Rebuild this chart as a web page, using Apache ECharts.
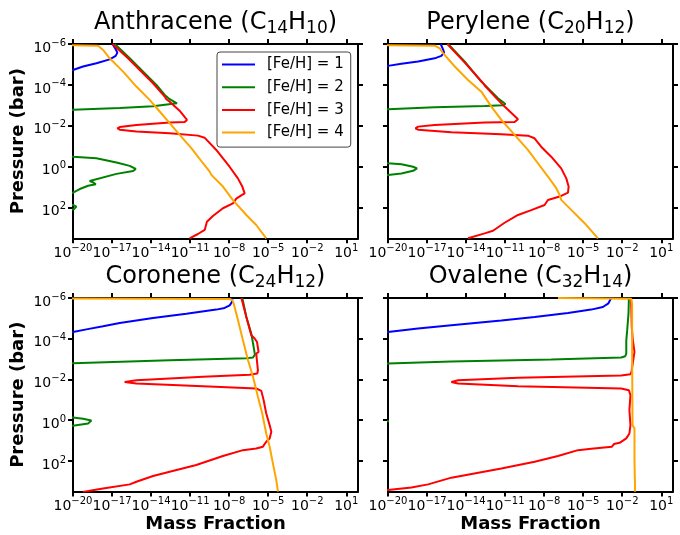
<!DOCTYPE html>
<html>
<head>
<meta charset="utf-8">
<script src="https://cdn.jsdelivr.net/npm/echarts@6/dist/echarts.min.js"></script>
<style>
  html, body { margin: 0; padding: 0; background: #fff; }
  #chart { width: 680px; height: 535px; }
</style>
</head>
<body>
<div id="chart"></div>
<script>
// Each profile is a list of [log10(mass fraction), log10(pressure / bar)] points.
// Points at -30 or beyond the left limit lie below the plotted range.

const FE_LABELS = ['[Fe/H] = 1', '[Fe/H] = 2', '[Fe/H] = 3', '[Fe/H] = 4'];
const X_TICKS = [-20, -17, -14, -11, -8, -5, -2, 1];
const Y_TICKS = [-6, -4, -2, 0, 2];
const X_RANGE = [-20, 1.9];
const Y_RANGE = [-6, 3.5];

// Anthracene (C14H10)
const ANTH_FE1 = [[-16.97,-6.00],[-16.72,-5.74],[-16.59,-5.58],[-16.72,-5.42],[-17.18,-5.25],[-18.20,-5.06],[-19.23,-4.90],[-20.0,-4.73],[-21.2,-4.5]];
const ANTH_FE2 = [[-16.79,-6.00],[-15.64,-5.30],[-14.36,-4.49],[-13.59,-4.00],[-12.95,-3.51],[-12.57,-3.30],[-12.01,-3.10],[-12.11,-3.02],[-13.85,-2.96],[-16.41,-2.87],[-20.0,-2.78],[-26,-2.6],[-30,-2.0],[-30,-0.8],[-22,-0.6],[-20.0,-0.49],[-18.20,-0.41],[-16.66,-0.21],[-15.64,-0.04],[-15.18,0.11],[-15.38,0.21],[-16.66,0.35],[-18.72,0.70],[-18.41,0.78],[-18.25,0.86],[-18.84,0.93],[-19.48,1.09],[-20.0,1.27],[-23,1.5],[-30,1.6],[-22,1.8],[-20.0,1.87],[-19.74,1.95],[-19.69,2.02],[-19.94,2.08],[-22,2.3],[-30,2.5],[-30,3.5]];
const ANTH_FE3 = [[-16.97,-6.00],[-15.77,-5.30],[-14.62,-4.57],[-13.85,-4.08],[-12.95,-3.43],[-12.83,-3.30],[-12.57,-3.18],[-11.81,-2.74],[-11.24,-2.29],[-11.42,-2.19],[-12.57,-2.16],[-15.13,-2.04],[-16.41,-1.94],[-16.59,-1.88],[-16.41,-1.81],[-15.13,-1.72],[-12.57,-1.64],[-10.40,-1.52],[-9.89,-1.42],[-8.99,-0.82],[-7.97,0.00],[-7.33,0.57],[-6.99,0.97],[-6.81,1.30],[-7.07,1.40],[-7.45,1.56],[-7.71,1.79],[-8.48,2.03],[-9.25,2.41],[-9.71,2.69],[-9.88,3.09],[-10.40,3.29],[-11.04,3.50]];
const ANTH_FE4 = [[-30,-6.0],[-18.07,-5.92],[-17.69,-5.71],[-17.18,-5.30],[-16.15,-4.65],[-15.13,-3.92],[-14.11,-3.27],[-13.34,-2.70],[-12.57,-2.13],[-11.80,-1.56],[-10.91,-0.91],[-10.01,-0.17],[-9.50,0.24],[-9.37,0.40],[-9.25,0.48],[-8.48,0.97],[-7.71,1.63],[-6.68,2.36],[-5.92,2.85],[-5.15,3.50]];

// Perylene (C20H12)
const PERY_FE1 = [[-15.95,-6.00],[-15.77,-5.74],[-15.69,-5.58],[-15.90,-5.42],[-16.41,-5.30],[-17.69,-5.14],[-18.97,-5.03],[-20.0,-4.93],[-21.2,-4.75]];
const PERY_FE2 = [[-15.38,-6.00],[-14.10,-5.14],[-12.83,-4.16],[-12.57,-4.00],[-11.55,-3.35],[-10.98,-3.07],[-11.16,-3.00],[-12.57,-2.97],[-16.41,-2.91],[-20.0,-2.81],[-26,-2.6],[-30,-2.0],[-30,-0.5],[-22,-0.3],[-20.0,-0.17],[-18.97,-0.12],[-18.07,0.00],[-17.77,0.08],[-18.07,0.20],[-18.97,0.33],[-20.0,0.40],[-22,0.5],[-30,1.0],[-30,3.5]];
const PERY_FE3 = [[-15.44,-6.00],[-14.10,-5.09],[-12.69,-4.08],[-12.57,-3.97],[-11.55,-3.27],[-11.04,-2.94],[-10.01,-2.32],[-9.96,-2.26],[-10.27,-2.19],[-12.57,-2.16],[-16.41,-2.04],[-17.69,-1.96],[-17.89,-1.88],[-17.69,-1.81],[-15.13,-1.68],[-11.29,-1.59],[-9.25,-1.52],[-8.74,-1.39],[-8.23,-0.98],[-7.46,-0.49],[-6.69,0.08],[-6.30,0.57],[-6.12,0.97],[-6.17,1.27],[-6.30,1.33],[-6.81,1.46],[-7.71,1.63],[-7.97,1.87],[-8.99,2.12],[-10.01,2.36],[-11.04,2.74],[-11.93,3.13],[-12.57,3.26],[-13.85,3.50]];
const PERY_FE4 = [[-30,-6.0],[-16.41,-5.92],[-16.02,-5.79],[-15.77,-5.55],[-14.87,-4.90],[-13.85,-4.24],[-12.83,-3.67],[-12.06,-2.94],[-11.29,-2.29],[-10.27,-1.56],[-9.25,-0.82],[-8.48,-0.17],[-7.71,0.48],[-7.07,1.05],[-6.81,1.38],[-6.69,1.62],[-5.92,2.11],[-4.89,2.76],[-3.87,3.50]];

// Coronene (C24H12)
const CORO_FE1 = [[-7.75,-6.00],[-7.79,-5.80],[-7.96,-5.64],[-8.35,-5.51],[-8.99,-5.43],[-11.29,-5.23],[-13.85,-5.02],[-16.41,-4.77],[-17.69,-4.61],[-18.97,-4.46],[-20.0,-4.33],[-21.5,-4.1]];
const CORO_FE2 = [[-6.99,-6.00],[-6.68,-5.07],[-6.30,-4.25],[-6.12,-3.60],[-6.02,-3.22],[-6.17,-3.08],[-6.68,-3.04],[-12.57,-2.94],[-20.0,-2.80],[-26,-2.6],[-30,-2.0],[-30,-0.4],[-22,-0.2],[-20.0,-0.13],[-19.23,-0.07],[-18.59,0.01],[-18.46,0.08],[-18.84,0.16],[-20.0,0.27],[-22,0.4],[-30,1.0],[-30,3.5]];
const CORO_FE3 = [[-7.06,-6.00],[-6.68,-5.07],[-6.30,-4.17],[-6.04,-4.01],[-5.86,-3.84],[-5.74,-3.35],[-5.92,-3.27],[-5.79,-2.45],[-5.84,-2.29],[-6.43,-2.23],[-10.01,-2.13],[-15.13,-1.96],[-16.03,-1.88],[-15.13,-1.80],[-10.01,-1.67],[-5.92,-1.56],[-5.53,-1.44],[-5.35,-0.98],[-5.15,-0.33],[-4.89,0.24],[-4.76,0.57],[-4.89,0.90],[-5.15,1.06],[-5.41,1.30],[-5.92,1.39],[-6.94,1.47],[-8.48,1.76],[-10.53,2.20],[-12.57,2.53],[-13.85,2.74],[-15.13,3.02],[-15.64,3.15],[-17.69,3.35],[-18.71,3.46],[-19.23,3.52]];
const CORO_FE4 = [[-30,-6.0],[-7.96,-5.95],[-7.75,-5.89],[-7.65,-5.72],[-7.32,-4.91],[-6.94,-3.92],[-6.55,-2.94],[-6.17,-2.13],[-5.79,-1.15],[-5.46,-0.33],[-5.15,0.65],[-4.89,1.30],[-4.59,2.28],[-4.38,2.94],[-4.25,3.51]];

// Ovalene (C32H14)
const OVAL_FE1 = [[-2.85,-6.00],[-3.06,-5.74],[-3.49,-5.56],[-4.39,-5.43],[-6.17,-5.26],[-8.73,-5.07],[-11.29,-4.90],[-15.13,-4.66],[-17.69,-4.50],[-20.0,-4.33],[-21.5,-4.1]];
const OVAL_FE2 = [[-1.49,-6.00],[-1.52,-5.23],[-1.62,-4.42],[-1.69,-3.92],[-1.69,-3.27],[-1.77,-3.14],[-2.08,-3.08],[-7.46,-2.98],[-15.13,-2.88],[-20.0,-2.78],[-26,-2.6],[-30,-2.0],[-30,-0.3],[-21,-0.02],[-19.93,0.05],[-21,0.12],[-30,1.0],[-30,3.5]];
const OVAL_FE3 = [[-1.32,-6.00],[-1.27,-4.58],[-1.19,-3.96],[-1.06,-3.93],[-1.06,-3.36],[-1.19,-3.28],[-1.29,-2.37],[-1.37,-2.26],[-2.08,-2.19],[-10.01,-2.09],[-14.62,-1.96],[-15.13,-1.88],[-14.62,-1.80],[-10.01,-1.67],[-2.08,-1.56],[-1.49,-1.47],[-1.37,-1.23],[-1.45,-0.49],[-1.37,0.24],[-1.45,0.65],[-1.69,0.89],[-2.20,1.11],[-2.64,1.17],[-2.79,1.30],[-4.38,1.40],[-5.40,1.47],[-6.94,1.76],[-8.73,2.04],[-11.29,2.37],[-15.13,2.82],[-16.92,3.15],[-18.20,3.30],[-20.0,3.43],[-21.5,3.5]];
const OVAL_FE4 = [[-6.94,-6.0],[-1.32,-5.96],[-1.24,-5.72],[-1.24,-2.94],[-1.21,0.16],[-1.19,0.27],[-1.06,0.40],[-1.06,1.96],[-1.01,3.51]];

const PANEL_TITLES = [
  '{n|Anthracene (C}{s|14}{n|H}{s|10}{n|)}',
  '{n|Perylene (C}{s|20}{n|H}{s|12}{n|)}',
  '{n|Coronene (C}{s|24}{n|H}{s|12}{n|)}',
  '{n|Ovalene (C}{s|32}{n|H}{s|14}{n|)}'
];
const PANEL_DATA = [
  [ANTH_FE1, ANTH_FE2, ANTH_FE3, ANTH_FE4],
  [PERY_FE1, PERY_FE2, PERY_FE3, PERY_FE4],
  [CORO_FE1, CORO_FE2, CORO_FE3, CORO_FE4],
  [OVAL_FE1, OVAL_FE2, OVAL_FE3, OVAL_FE4]
];

const COLORS = ['#0000ff', '#008000', '#ff0000', '#ffa500'];
const FONT = 'DejaVu Sans';
const GRIDS = [
  { left: 73, top: 44, width: 285, height: 194.3 },
  { left: 388, top: 44, width: 285, height: 194.3 },
  { left: 73, top: 298, width: 285, height: 193.5 },
  { left: 388, top: 298, width: 285, height: 193.5 }
];

function powLabel(v) {
  const e = Math.round(v);
  return '{b|10}{s|' + (e < 0 ? '\u2212' : '') + Math.abs(e) + '}';
}
const tickRich = {
  b: { fontSize: 14, fontFamily: FONT, color: '#000', lineHeight: 20 },
  s: { fontSize: 10, fontFamily: FONT, color: '#000', lineHeight: 8, verticalAlign: 'top' }
};
const frameLine = { show: true, onZero: false, lineStyle: { color: '#000', width: 2 } };
const frameTick = (vals) => ({ show: true, inside: false, length: 5, customValues: vals, lineStyle: { color: '#000', width: 2 } });

const grid = [], xAxis = [], yAxis = [], series = [], title = [];

GRIDS.forEach((g, i) => {
  grid.push(Object.assign({ containLabel: false, outerBoundsMode: 'none' }, g));
  const bottomRow = i >= 2;
  const leftCol = i % 2 === 0;

  xAxis.push({
    type: 'value', gridIndex: i, position: 'bottom', min: X_RANGE[0], max: X_RANGE[1],
    axisLine: frameLine, axisTick: frameTick(X_TICKS), splitLine: { show: false },
    axisLabel: { show: true, customValues: X_TICKS, margin: 5, formatter: powLabel, rich: tickRich },
    name: bottomRow ? 'Mass Fraction' : '', nameLocation: 'middle', nameGap: 24,
    nameTextStyle: { fontSize: 18, fontWeight: 'bold', fontFamily: FONT, color: '#000', lineHeight: 18 }
  });
  xAxis.push({
    type: 'value', gridIndex: i, position: 'top', min: X_RANGE[0], max: X_RANGE[1],
    axisLine: frameLine, axisTick: frameTick(X_TICKS), splitLine: { show: false },
    axisLabel: { show: false }
  });
  yAxis.push({
    type: 'value', gridIndex: i, position: 'left', inverse: true, min: Y_RANGE[0], max: Y_RANGE[1],
    axisLine: frameLine, axisTick: frameTick(Y_TICKS), splitLine: { show: false },
    axisLabel: { show: leftCol, customValues: Y_TICKS, margin: 7, formatter: powLabel, rich: tickRich, padding: [8, 0, 0, 0] },
    name: leftCol ? 'Pressure (bar)' : '', nameLocation: 'middle', nameGap: 46, nameRotate: 90,
    nameTextStyle: { fontSize: 18, fontWeight: 'bold', fontFamily: FONT, color: '#000', lineHeight: 18 }
  });
  yAxis.push({
    type: 'value', gridIndex: i, position: 'right', inverse: true, min: Y_RANGE[0], max: Y_RANGE[1],
    axisLine: frameLine, axisTick: frameTick(Y_TICKS), splitLine: { show: false },
    axisLabel: { show: false }
  });

  title.push({
    text: PANEL_TITLES[i],
    left: g.left + g.width / 2, top: g.top - 36.7, textAlign: 'center', padding: 0,
    textStyle: {
      rich: {
        n: { fontSize: 24, fontFamily: FONT, color: '#000', fontWeight: 'normal', lineHeight: 30 },
        s: { fontSize: 17, fontFamily: FONT, color: '#000', fontWeight: 'normal', lineHeight: 20, verticalAlign: 'bottom' }
      }
    }
  });

  PANEL_DATA[i].forEach((profile, j) => {
    series.push({
      type: 'line', name: FE_LABELS[j], xAxisIndex: 2 * i, yAxisIndex: 2 * i,
      data: profile, symbol: 'none', showSymbol: false, clip: true,
      lineStyle: { color: COLORS[j], width: 2 }, itemStyle: { color: COLORS[j] },
      emphasis: { disabled: true }
    });
  });
});

const chart = echarts.init(document.getElementById('chart'), null, { renderer: 'canvas' });
chart.setOption({
  animation: false,
  backgroundColor: '#fff',
  textStyle: { fontFamily: FONT },
  title,
  grid, xAxis, yAxis, series,
  legend: {
    data: FE_LABELS.map((name, j) => ({ name, icon: 'rect', itemStyle: { color: COLORS[j] } })),
    orient: 'vertical', left: 217, top: 52,
    padding: [5, 7, 7, 5], itemGap: 7.7, itemWidth: 33, itemHeight: 2,
    textStyle: { fontSize: 15, lineHeight: 15, fontFamily: FONT, color: '#000', padding: [0, 0, 0, 7] },
    backgroundColor: '#fff', borderColor: '#444', borderWidth: 1, borderRadius: 3,
    selectedMode: false
  }
});
</script>
</body>
</html>
